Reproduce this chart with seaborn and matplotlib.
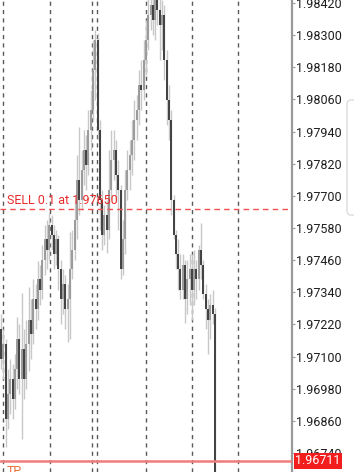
import numpy as np
import pandas as pd
import matplotlib
matplotlib.use("Agg")
import matplotlib.pyplot as plt
from matplotlib.patches import FancyBboxPatch
import seaborn as sns

# ---- data (prices) ----
opens = [1.97201, 1.97089, 1.97145, 1.96866, 1.96959, 1.97015, 1.96940, 1.97052, 1.97164, 1.97015,
         1.97127, 1.97015, 1.97145, 1.97238, 1.97183, 1.97313, 1.97276, 1.97388, 1.97350, 1.97462,
         1.97537, 1.97499, 1.97592, 1.97555, 1.97481, 1.97537, 1.97425, 1.97313, 1.97369, 1.97276,
         1.97313, 1.97425, 1.97499, 1.97611, 1.97760, 1.97686, 1.97797, 1.97872, 1.97816, 1.97947,
         1.98021, 1.98170, 1.98282, 1.97947, 1.97686, 1.97555, 1.97630, 1.97574, 1.97723, 1.97835,
         1.97872, 1.97779, 1.97723, 1.97425, 1.97537, 1.97723, 1.97797, 1.97853, 1.97909, 1.97984,
         1.98021, 1.98114, 1.98096, 1.98207, 1.98282, 1.98375, 1.98412, 1.98356, 1.98450, 1.98394,
         1.98338, 1.98375, 1.98207, 1.98058, 1.97984, 1.97686, 1.97555, 1.97481, 1.97425, 1.97350,
         1.97443, 1.97313, 1.97388, 1.97425, 1.97350, 1.97425, 1.97388, 1.97499, 1.97443, 1.97332,
         1.97276, 1.97238, 1.97294, 1.97257]
closes = [1.97089, 1.97145, 1.96866, 1.96959, 1.97015, 1.96940, 1.97052, 1.97164, 1.97015, 1.97127,
          1.97015, 1.97145, 1.97238, 1.97183, 1.97313, 1.97276, 1.97388, 1.97350, 1.97462, 1.97537,
          1.97499, 1.97592, 1.97555, 1.97481, 1.97537, 1.97425, 1.97313, 1.97369, 1.97276, 1.97313,
          1.97425, 1.97499, 1.97611, 1.97760, 1.97686, 1.97797, 1.97872, 1.97816, 1.97947, 1.98021,
          1.98170, 1.98282, 1.97947, 1.97686, 1.97555, 1.97630, 1.97574, 1.97723, 1.97835, 1.97872,
          1.97779, 1.97723, 1.97425, 1.97537, 1.97723, 1.97797, 1.97853, 1.97909, 1.97984, 1.98021,
          1.98114, 1.98096, 1.98207, 1.98282, 1.98375, 1.98412, 1.98356, 1.98450, 1.98394, 1.98338,
          1.98375, 1.98207, 1.98058, 1.97984, 1.97686, 1.97555, 1.97481, 1.97425, 1.97350, 1.97443,
          1.97313, 1.97388, 1.97425, 1.97350, 1.97425, 1.97388, 1.97499, 1.97443, 1.97332, 1.97276,
          1.97238, 1.97294, 1.97257, 1.96586]
highs = [1.97257, 1.97201, 1.97164, 1.97052, 1.97089, 1.97071, 1.97108, 1.97246, 1.97220, 1.97339,
         1.97201, 1.97238, 1.97361, 1.97313, 1.97388, 1.97369, 1.97455, 1.97443, 1.97518, 1.97592,
         1.97611, 1.97637, 1.97630, 1.97592, 1.97574, 1.97555, 1.97462, 1.97425, 1.97406, 1.97369,
         1.97566, 1.97574, 1.97686, 1.97853, 1.97958, 1.97872, 1.97947, 1.97928, 1.98021, 1.98096,
         1.98282, 1.98319, 1.98308, 1.97984, 1.97723, 1.97667, 1.97686, 1.97872, 1.97947, 1.97947,
         1.97909, 1.97835, 1.97742, 1.97611, 1.97797, 1.97872, 1.97909, 1.97984, 1.98058, 1.98077,
         1.98170, 1.98207, 1.98282, 1.98356, 1.98450, 1.98468, 1.98468, 1.98487, 1.98487, 1.98450,
         1.98431, 1.98412, 1.98245, 1.98114, 1.98021, 1.97704, 1.97574, 1.97537, 1.97481, 1.97481,
         1.97462, 1.97462, 1.97481, 1.97481, 1.97499, 1.97462, 1.97518, 1.97600, 1.97462, 1.97369,
         1.97313, 1.97332, 1.97350, 1.97283]
lows = [1.97052, 1.97015, 1.96761, 1.96828, 1.96884, 1.96866, 1.96903, 1.96978, 1.96959, 1.96791,
        1.96940, 1.96978, 1.97045, 1.97089, 1.97145, 1.97201, 1.97238, 1.97294, 1.97313, 1.97406,
        1.97425, 1.97462, 1.97499, 1.97425, 1.97443, 1.97350, 1.97220, 1.97257, 1.97201, 1.97153,
        1.97164, 1.97388, 1.97462, 1.97537, 1.97630, 1.97648, 1.97742, 1.97723, 1.97779, 1.97872,
        1.97984, 1.98058, 1.97909, 1.97574, 1.97499, 1.97518, 1.97488, 1.97537, 1.97686, 1.97760,
        1.97686, 1.97574, 1.97388, 1.97406, 1.97481, 1.97686, 1.97723, 1.97779, 1.97835, 1.97909,
        1.97965, 1.98021, 1.98058, 1.98151, 1.98245, 1.98319, 1.98301, 1.98282, 1.98338, 1.98207,
        1.98245, 1.98133, 1.97965, 1.97909, 1.97630, 1.97537, 1.97425, 1.97350, 1.97313, 1.97313,
        1.97227, 1.97257, 1.97294, 1.97238, 1.97294, 1.97313, 1.97350, 1.97388, 1.97313, 1.97201,
        1.97108, 1.97164, 1.97220, 1.96568]

price_ticks = [1.98420, 1.98300, 1.98180, 1.98060, 1.97940, 1.97820, 1.97700,
               1.97580, 1.97460, 1.97340, 1.97220, 1.97100, 1.96980, 1.96860, 1.96740]
separators = [0.9, 21.3, 39.6, 41.7, 63.0, 83.0, 103.0]
sell_price = 1.97650
sell_label = "SELL 0.1 at 1.97650"
tp_price = 1.96711
tp_label = "TP"

df = pd.DataFrame({"o": opens, "c": closes, "h": highs, "l": lows})
df["i"] = np.arange(len(df))
df["bear"] = df["c"] < df["o"]

# ---- style ----
sns.set_style("white")
plt.rcParams["font.family"] = ["Roboto", "DejaVu Sans"]

W, H = 354, 472
fig = plt.figure(figsize=(W / 100, H / 100), dpi=100)
fig.patch.set_facecolor("white")
ax = fig.add_axes([0, 0, 292 / W, 1])
ax.set_facecolor("white")

# separators
for s in separators:
    ax.axvline(s, color="#5a5a5a", lw=1.0, ls=(0, (3, 3)), zorder=1)

# candles: wicks then bodies
ax.vlines(df["i"], df["l"], df["h"], color="#c8c8c8", lw=1.0, zorder=2)
bull = df[~df["bear"]]
bear = df[df["bear"]]
ax.vlines(bull["i"], bull["o"], bull["c"], color="#9a9a9a", lw=1.4, zorder=3)
ax.vlines(bear["i"], bear["o"], bear["c"], color="#404040", lw=1.4, zorder=3)

# SELL line
ax.axhline(sell_price, color="#f05050", lw=1.0, ls=(0, (4, 3)), zorder=4)
ax.annotate(sell_label, xy=(0, sell_price), xycoords=("axes fraction", "data"),
            xytext=(7, 2), textcoords="offset pixels", ha="left", va="bottom",
            color="#e82a2a", fontsize=9, zorder=5)

# TP line
ax.axhline(tp_price, color="#f07c7c", lw=1.8, zorder=4)
ax.annotate(tp_label, xy=(0, tp_price), xycoords=("axes fraction", "data"),
            xytext=(7, -4), textcoords="offset pixels", ha="left", va="top",
            color="#e8703a", fontsize=9, zorder=5)

# axes limits
step = 2.3
ax.set_xlim(-1 / step, -1 / step + 292 / step)
ax.set_ylim(1.96669, 1.98431)

for sp in ["top", "left", "bottom"]:
    ax.spines[sp].set_visible(False)
ax.spines["right"].set_color("#9a9a9a")
ax.spines["right"].set_linewidth(1.6)
ax.set_xticks([])
ax.set_yticks(price_ticks)
ax.set_yticklabels([f"{p:.5f}" for p in price_ticks])
ax.yaxis.tick_right()
ax.tick_params(axis="y", right=True, left=False, labelright=True, labelleft=False,
               length=2, width=0.8, pad=1, color="#9a9a9a", labelcolor="#1e1e1e",
               labelsize=9)

# TP price tag on the scale
ax.annotate(f"{tp_price:.5f}", xy=(1, tp_price), xycoords=("axes fraction", "data"),
            xytext=(3, 0), textcoords="offset pixels", ha="left", va="center",
            color="white", fontsize=9, annotation_clip=False, zorder=10,
            bbox=dict(boxstyle="square,pad=0.12", fc="#f21d1d", ec="none"))

# faint scroll handle at right edge
fig.patches.append(FancyBboxPatch((347 / W, 1 - 215 / H), 12 / W, 115 / H,
                                  boxstyle="round,pad=0,rounding_size=0.01",
                                  transform=fig.transFigure, fc="white",
                                  ec="#dcdcdc", lw=1.0, zorder=0))

fig.savefig("out.png", dpi=100)
